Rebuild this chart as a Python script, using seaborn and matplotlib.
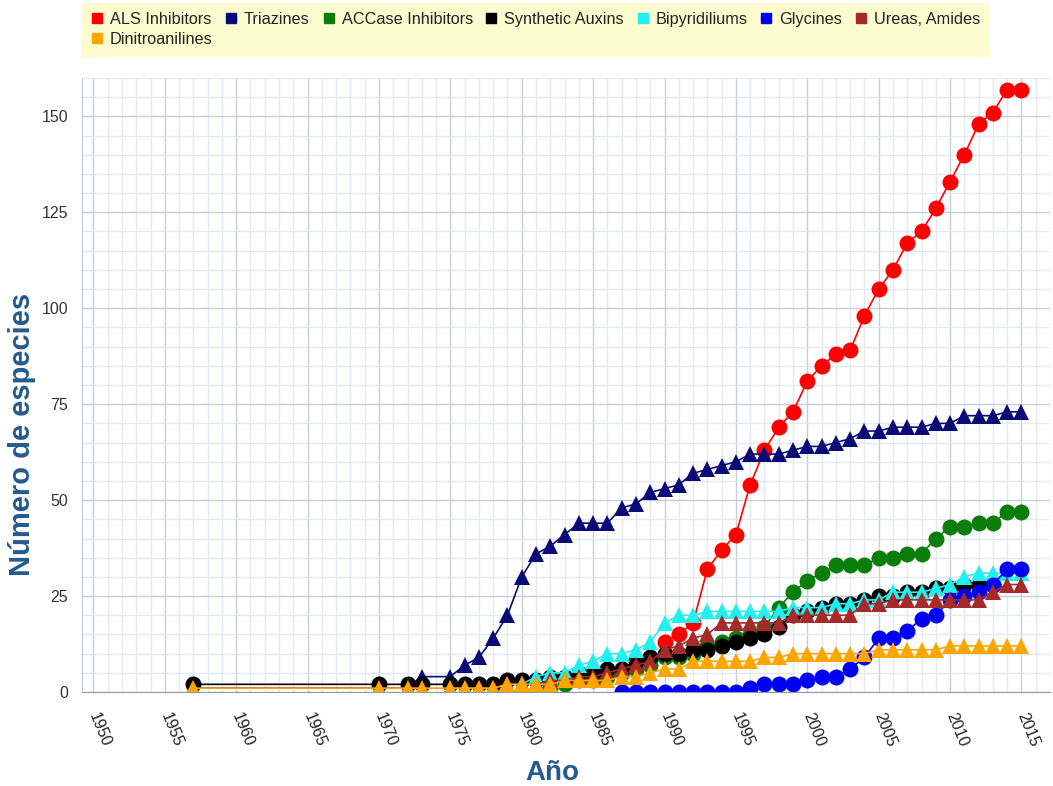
import pandas as pd                         # data frames for seaborn
import matplotlib.pyplot as plt             # figure / axes
import seaborn as sns                       # line plots
from matplotlib.ticker import MultipleLocator
from matplotlib.lines import Line2D

# Herbicide resistance: number of species per year
als_years = list(range(1990, 2016))
als_vals = [13, 15, 18, 32, 37, 41, 54, 63, 69, 73, 81, 85, 88, 89, 98, 105,
            110, 117, 120, 126, 133, 140, 148, 151, 157, 157]

tri_years = [1957, 1970, 1972, 1973] + list(range(1975, 2016))
tri_vals = [1, 1, 1, 4, 4, 7, 9, 14, 20, 30, 36, 38, 41, 44, 44, 44, 48, 49, 52,
            53, 54, 57, 58, 59, 60, 62, 62, 62, 63, 64, 64, 65, 66, 68, 68, 69,
            69, 69, 70, 70, 72, 72, 72, 73, 73]

acc_years = list(range(1982, 2016))
acc_vals = [1, 2, 3, 3, 4, 5, 6, 7, 9, 9, 10, 12, 13, 14, 15, 17, 22, 26, 29,
            31, 33, 33, 33, 35, 35, 36, 36, 40, 43, 43, 44, 44, 47, 47]

aux_years = [1957, 1970, 1972, 1973] + list(range(1975, 2014))
aux_vals = [2, 2, 2, 2, 2, 2, 2, 2, 3, 3, 3, 4, 4, 5, 5, 6, 6, 8, 9, 10, 10, 11,
            11, 12, 13, 14, 15, 17, 20, 21, 22, 23, 23, 24, 25, 25, 26, 26, 27,
            27, 28, 28, 28]

bip_years = list(range(1980, 2016))
bip_vals = [2, 4, 5, 5, 7, 8, 10, 10, 11, 13, 18, 20, 20, 21, 21, 21, 21, 21,
            21, 22, 22, 22, 23, 23, 24, 24, 26, 26, 26, 27, 28, 30, 31, 31, 31, 31]

gly_years = list(range(1987, 2016))
gly_vals = [0, 0, 0, 0, 0, 0, 0, 0, 0, 1, 2, 2, 2, 3, 4, 4, 6, 9, 14, 14, 16,
            19, 20, 24, 25, 26, 28, 32, 32]

ure_years = list(range(1975, 2016))
ure_vals = [1, 1, 1, 1, 2, 2, 2, 3, 3, 4, 4, 5, 6, 7, 8, 11, 12, 14, 15, 18, 18,
            18, 18, 18, 20, 20, 20, 20, 20, 23, 23, 24, 24, 24, 24, 24, 24, 24,
            26, 28, 28]

din_years = [1957, 1970, 1972, 1973] + list(range(1975, 2016))
din_vals = [1, 1, 1, 1, 1, 1, 1, 1, 2, 2, 2, 2, 3, 3, 3, 3, 4, 4, 5, 6, 6, 8, 8,
            8, 8, 8, 9, 9, 10, 10, 10, 10, 10, 10, 11, 11, 11, 11, 11, 12, 12,
            12, 12, 12, 12]

names = ["ALS Inhibitors", "Triazines", "ACCase Inhibitors", "Synthetic Auxins",
         "Bipyridiliums", "Glycines", "Ureas, Amides", "Dinitroanilines"]
years = [als_years, tri_years, acc_years, aux_years, bip_years, gly_years,
         ure_years, din_years]
values = [als_vals, tri_vals, acc_vals, aux_vals, bip_vals, gly_vals,
          ure_vals, din_vals]
colors = ['#ff0000', '#0b0b78', '#0a7d0a', '#000000', '#22f0f0', '#0000f5',
          '#a52a2a', '#ffa500']
markers = ['o', '^', 'o', 'o', '^', 'o', '^', '^']

sns.set_style('white')
plt.rcParams['font.family'] = ['Liberation Sans', 'DejaVu Sans']

fig, ax = plt.subplots(figsize=(10.53, 7.86), dpi=100)
fig.subplots_adjust(left=82/1053, right=1050/1053, bottom=1-692/786, top=1-78/786)

for i in range(len(names)):
    df = pd.DataFrame({'year': years[i], 'value': values[i]})
    sns.lineplot(data=df, x='year', y='value', color=colors[i], marker=markers[i],
                 markersize=11.5, markeredgewidth=0, linewidth=1.2, ax=ax,
                 legend=False)

ax.set_xlim(1949.2, 2017.0)
ax.set_ylim(0, 160)
ax.xaxis.set_major_locator(MultipleLocator(5))
ax.xaxis.set_minor_locator(MultipleLocator(1))
ax.yaxis.set_major_locator(MultipleLocator(25))
ax.yaxis.set_minor_locator(MultipleLocator(5))
ax.grid(which='major', color='#c8ccd8', linewidth=1)
ax.grid(which='minor', color='#e5e8ef', linewidth=1)
ax.set_axisbelow(True)

for side in ['top', 'right']:
    ax.spines[side].set_visible(False)
ax.spines['left'].set_color('#c0c8d8')
ax.spines['bottom'].set_color('#8e9bb0')

ax.tick_params(axis='x', which='major', length=7, color='#8e9bb0',
               labelsize=11.5, labelcolor='#222222', pad=8)
ax.tick_params(axis='x', which='minor', length=0)
ax.tick_params(axis='y', which='both', length=0, labelsize=11.5,
               labelcolor='#333333', pad=10)
for lbl in ax.get_xticklabels():
    lbl.set_rotation(-68)
    lbl.set_ha('left')
    lbl.set_va('center')
    lbl.set_rotation_mode('anchor')

ax.set_xlabel('Año', fontsize=20, fontweight='bold', color='#245a8d')
ax.xaxis.set_label_coords(0.4855, -0.11)
ax.set_ylabel('Número de especies', fontsize=21, fontweight='bold', color='#245a8d')
ax.yaxis.set_label_coords(-0.048, 0.42)

# legend: first column holds ALS + Dinitroanilines so the 8th item wraps below
order = [0, 7, 1, 2, 3, 4, 5, 6]
handles = [Line2D([], [], ls='none', marker='s', markersize=7.5, color=colors[i])
           for i in order]
labels = [names[i] for i in order]
fig.legend(handles, labels, ncol=7, loc='upper left',
           bbox_to_anchor=(82/1053, 1-3/786), frameon=True, fancybox=False,
           facecolor='#fcfcd0', edgecolor='#fcfcd0', framealpha=1,
           fontsize=11.7, handlelength=0.7, handletextpad=0.45,
           columnspacing=0.8, borderpad=0.55, labelspacing=0.3,
           borderaxespad=0, labelcolor='#222222')

plt.savefig('out.png', dpi=100)
